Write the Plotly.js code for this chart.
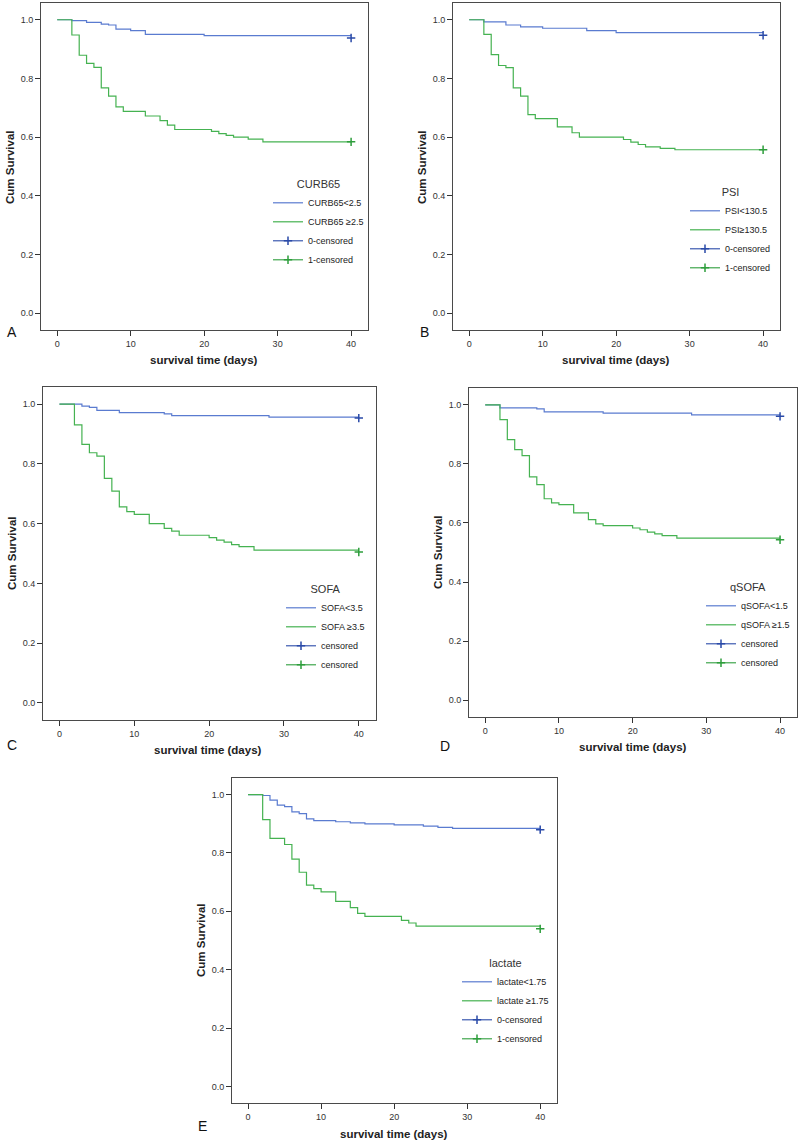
<!DOCTYPE html>
<html><head><meta charset="utf-8">
<script src="https://cdn.plot.ly/plotly-3.0.1.min.js"></script>
<style>html,body{margin:0;padding:0;background:#fff}#chart{width:800px;height:1142px}</style>
</head><body><div id="chart"></div>
<script>
// ---------- data ----------
const censorDay = [40];

// Panel A: CURB65
const tA_low  = [0,2,4,6,7,8,10,12,20,40];
const sA_low  = [1,0.997,0.991,0.985,0.982,0.968,0.963,0.950,0.946,0.946];
const cA_low  = [0.938];
const tA_high = [0,2,3,4,5,6,7,8,9,12,14,15,16,21,22,23,24,26,28,40];
const sA_high = [1,0.948,0.879,0.851,0.838,0.768,0.740,0.703,0.688,0.672,0.656,0.641,0.626,0.620,0.612,0.606,0.600,0.593,0.584,0.584];
const cA_high = [0.584];

// Panel B: PSI
const tB_low  = [0,2,5,7,10,16,20,40];
const sB_low  = [1,0.993,0.982,0.976,0.971,0.963,0.956,0.956];
const cB_low  = [0.947];
const tB_high = [0,2,3,4,5,6,7,8,9,12,14,15,21,22,23,24,26,28,40];
const sB_high = [1,0.950,0.881,0.844,0.837,0.768,0.740,0.677,0.663,0.635,0.615,0.600,0.592,0.583,0.575,0.567,0.562,0.557,0.557];
const cB_high = [0.557];

// Panel C: SOFA
const tC_low  = [0,3,4,5,8,14,15,28,40];
const sC_low  = [1,0.993,0.989,0.979,0.971,0.967,0.961,0.956,0.956];
const cC_low  = [0.953];
const tC_high = [0,2,3,4,5,6,7,8,9,10,12,14,15,16,20,21,22,23,24,26,40];
const sC_high = [1,0.930,0.865,0.837,0.826,0.751,0.709,0.656,0.640,0.631,0.600,0.584,0.575,0.561,0.553,0.545,0.538,0.530,0.523,0.511,0.511];
const cC_high = [0.505];

// Panel D: qSOFA
const tD_low  = [0,2,7,8,16,28,40];
const sD_low  = [1,0.990,0.986,0.976,0.972,0.966,0.966];
const cD_low  = [0.961];
const tD_high = [0,2,3,4,5,6,7,8,9,10,12,14,15,16,20,21,22,23,24,26,40];
const sD_high = [1,0.950,0.882,0.848,0.828,0.756,0.730,0.682,0.668,0.662,0.634,0.611,0.597,0.591,0.583,0.577,0.569,0.563,0.557,0.549,0.549];
const cD_high = [0.543];

// Panel E: lactate
const tE_low  = [0,2,3,4,5,6,7,8,9,12,14,16,20,24,26,28,40];
const sE_low  = [1,0.997,0.981,0.964,0.959,0.941,0.935,0.917,0.911,0.907,0.903,0.900,0.896,0.892,0.888,0.884,0.884];
const cE_low  = [0.880];
const tE_high = [0,2,3,5,6,7,8,9,10,12,14,15,16,21,22,23,40];
const sE_high = [1,0.914,0.850,0.829,0.779,0.734,0.690,0.678,0.667,0.634,0.613,0.593,0.583,0.569,0.560,0.549,0.549];
const cE_high = [0.540];

const panelLetters   = ['A','B','C','D','E'];
const legendTitles   = ['CURB65','PSI','SOFA','qSOFA','lactate'];
const lowLabels      = ['CURB65<2.5','PSI<130.5','SOFA<3.5','qSOFA<1.5','lactate<1.75'];
const highLabels     = ['CURB65 \u22652.5','PSI\u2265130.5','SOFA \u22653.5','qSOFA \u22651.5','lactate \u22651.75'];
const censLowLabels  = ['0-censored','0-censored','censored','censored','0-censored'];
const censHighLabels = ['1-censored','1-censored','censored','censored','1-censored'];
const xTickVals = [0,10,20,30,40];
const yTickVals = [0,0.2,0.4,0.6,0.8,1.0];
const xTitleText = 'survival time (days)';
const yTitleText = 'Cum Survival';

// ---------- presentation ----------
const W = 800, H = 1142;
const FONT = 'Liberation Sans, Arial, sans-serif';
const BLUE = '#5a7bd0', GREEN = '#45b251', BLUE_M = '#2a4aa8', GREEN_M = '#2e9e3c';

const series = [
  [tA_low,sA_low,cA_low,tA_high,sA_high,cA_high],
  [tB_low,sB_low,cB_low,tB_high,sB_high,cB_high],
  [tC_low,sC_low,cC_low,tC_high,sC_high,cC_high],
  [tD_low,sD_low,cD_low,tD_high,sD_high,cD_high],
  [tE_low,sE_low,cE_low,tE_high,sE_high,cE_high]
];
// plot boxes in pixels: [left, top, right, bottom]
const boxes = [[41,3,368,330],[453,3,780,330],[43,387,376,720],[469,388,797,717],[232,778,557,1103]];
const yTitlePos = [[10,167],[422,167],[12,553],[438,552],[201,940]];
const xTitlePos = [[204,360],[616,360],[208,750],[633,747],[394,1134]];
const letterPos = [[12,332],[424,332],[12,745],[445,746],[202,1126]];
const legendPos = [[268,174],[685,182],[281,579],[701,577],[457,953]];

const px = v => v / W, py = v => 1 - v / H;

const traces = [];
const layout = {
  width: W, height: H, margin: {l:0,r:0,t:0,b:0},
  paper_bgcolor: '#fff', plot_bgcolor: '#fff',
  font: {family: FONT, color: '#222'},
  annotations: [], showlegend: true
};

series.forEach((s, i) => {
  const n = i === 0 ? '' : String(i + 1);
  const xa = 'x' + n, ya = 'y' + n;
  const leg = 'legend' + n;
  const [tl, sl, cl, th, sh, ch] = s;
  traces.push({x: tl, y: sl, xaxis: xa, yaxis: ya, type: 'scatter', mode: 'lines',
    line: {shape: 'hv', color: BLUE, width: 1.2}, name: lowLabels[i], legend: leg, hoverinfo: 'skip'});
  traces.push({x: th, y: sh, xaxis: xa, yaxis: ya, type: 'scatter', mode: 'lines',
    line: {shape: 'hv', color: GREEN, width: 1.2}, name: highLabels[i], legend: leg, hoverinfo: 'skip'});
  traces.push({x: censorDay, y: cl, xaxis: xa, yaxis: ya, type: 'scatter', mode: 'lines+markers',
    line: {color: BLUE_M, width: 1.1},
    marker: {symbol: 'cross-thin', size: 6, line: {color: BLUE_M, width: 1.5}},
    name: censLowLabels[i], legend: leg, hoverinfo: 'skip'});
  traces.push({x: censorDay, y: ch, xaxis: xa, yaxis: ya, type: 'scatter', mode: 'lines+markers',
    line: {color: GREEN_M, width: 1.1},
    marker: {symbol: 'cross-thin', size: 6, line: {color: GREEN_M, width: 1.5}},
    name: censHighLabels[i], legend: leg, hoverinfo: 'skip'});

  const b = boxes[i];
  layout['xaxis' + n] = {
    domain: [px(b[0]), px(b[2])], anchor: ya, range: [-2.2, 42.3],
    tickmode: 'array', tickvals: xTickVals, ticktext: xTickVals.map(String),
    ticks: 'outside', ticklen: 5, tickcolor: '#333', tickwidth: 1,
    tickfont: {size: 9, color: '#333', family: FONT},
    showline: true, linecolor: '#4a4a4a', linewidth: 1, mirror: true,
    showgrid: false, zeroline: false, fixedrange: true
  };
  layout['yaxis' + n] = {
    domain: [py(b[3]), py(b[1])], anchor: xa, range: [-0.057, 1.057],
    tickmode: 'array', tickvals: yTickVals, ticktext: yTickVals.map(v => v.toFixed(1)),
    ticks: 'outside', ticklen: 5, tickcolor: '#333', tickwidth: 1,
    tickfont: {size: 9, color: '#333', family: FONT},
    showline: true, linecolor: '#4a4a4a', linewidth: 1, mirror: true,
    showgrid: false, zeroline: false, fixedrange: true
  };
  layout[leg] = {
    x: px(legendPos[i][0]), y: py(legendPos[i][1]), xanchor: 'left', yanchor: 'top',
    xref: 'paper', yref: 'paper',
    bgcolor: 'rgba(0,0,0,0)', borderwidth: 0, itemwidth: 30, tracegroupgap: 0,
    font: {size: 9, color: '#222', family: FONT},
    title: {text: legendTitles[i], side: 'top center', font: {size: 11, color: '#333', family: FONT}}
  };
  layout.annotations.push({
    text: '<b>' + yTitleText + '</b>', xref: 'paper', yref: 'paper',
    x: px(yTitlePos[i][0]), y: py(yTitlePos[i][1]), xanchor: 'center', yanchor: 'middle',
    textangle: -90, showarrow: false, font: {size: 11.5, color: '#222', family: FONT}
  });
  layout.annotations.push({
    text: '<b>' + xTitleText + '</b>', xref: 'paper', yref: 'paper',
    x: px(xTitlePos[i][0]), y: py(xTitlePos[i][1]), xanchor: 'center', yanchor: 'middle',
    showarrow: false, font: {size: 11.5, color: '#222', family: FONT}
  });
  layout.annotations.push({
    text: panelLetters[i], xref: 'paper', yref: 'paper',
    x: px(letterPos[i][0]), y: py(letterPos[i][1]), xanchor: 'center', yanchor: 'middle',
    showarrow: false, font: {size: 14, color: '#111', family: FONT}
  });
});

Plotly.newPlot('chart', traces, layout, {staticPlot: true, displayModeBar: false});
</script></body></html>
